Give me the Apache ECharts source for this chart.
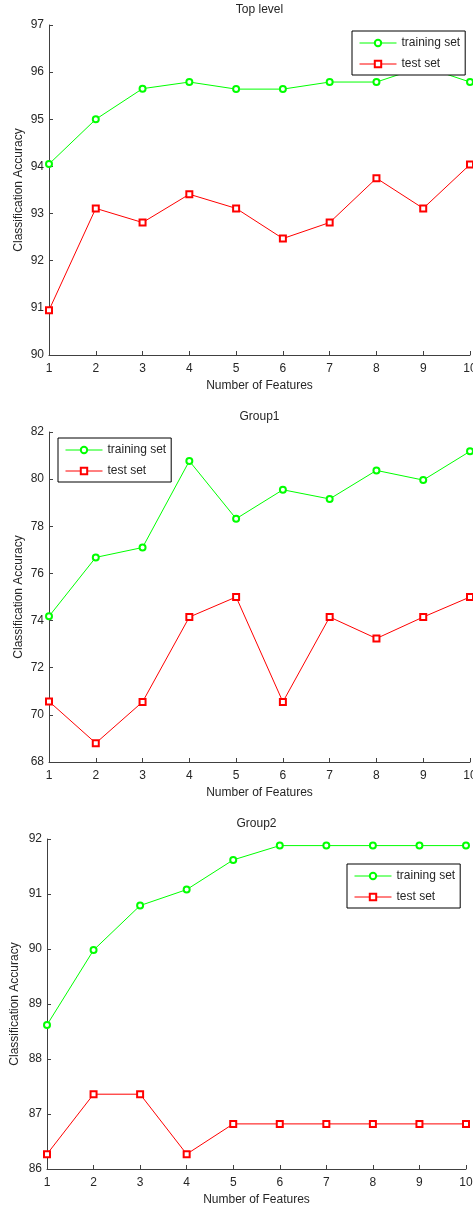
<!DOCTYPE html>
<html>
<head>
<meta charset="utf-8">
<script src="https://cdn.jsdelivr.net/npm/echarts@6/dist/echarts.min.js"></script>
<style>html,body{margin:0;padding:0;background:#fff}#c{width:473px;height:1211px}</style>
</head>
<body>
<div id="c"></div>
<script>
var features = [1, 2, 3, 4, 5, 6, 7, 8, 9, 10];
var titles = ['Top level', 'Group1', 'Group2'];
var topTrain = [94.05, 95.0, 95.65, 95.79, 95.64, 95.64, 95.79, 95.79, 96.12, 95.79];
var topTest = [90.95, 93.11, 92.81, 93.41, 93.11, 92.47, 92.81, 93.75, 93.11, 94.04];
var g1Train = [74.18, 76.68, 77.1, 80.77, 78.32, 79.55, 79.16, 80.37, 79.96, 81.18];
var g1Test = [70.57, 68.8, 70.55, 74.15, 75.0, 70.55, 74.15, 73.24, 74.15, 75.0];
var g2Train = [88.62, 89.98, 90.79, 91.08, 91.62, 91.88, 91.88, 91.88, 91.88, 91.88];
var g2Test = [86.27, 87.36, 87.36, 86.27, 86.82, 86.82, 86.82, 86.82, 86.82, 86.82];
var yRanges = [[90, 97, 1], [68, 82, 2], [86, 92, 1]];

var FONT = 'Liberation Sans, Arial, Helvetica, sans-serif';
var TXT = '#262626';
var grids = [
  {left: 49, right: 3, top: 25, height: 330},
  {left: 49, right: 3, top: 432, height: 330},
  {left: 47, right: 7, top: 839, height: 330}
];
var legendPos = [
  {left: 352, top: 31},
  {left: 58, top: 438},
  {left: 347, top: 864}
];
var trains = [topTrain, g1Train, g2Train];
var tests = [topTest, g1Test, g2Test];

function pairs(vals) { return features.map(function (f, i) { return [f, vals[i]]; }); }

var option = {
  backgroundColor: '#fff',
  animation: false,
  title: [], grid: [], xAxis: [], yAxis: [], legend: [], series: []
};
for (var k = 0; k < 3; k++) {
  var g = grids[k];
  var plotW = 473 - g.left - g.right;
  option.grid.push({left: g.left, right: g.right, top: g.top, height: g.height, containLabel: false, outerBoundsMode: 'none'});
  option.title.push({
    text: titles[k], left: g.left + plotW / 2, textAlign: 'center', top: g.top - 21, padding: 0,
    textStyle: {fontFamily: FONT, fontSize: 12, fontWeight: 'normal', color: TXT}
  });
  var axisCommon = {
    gridIndex: k,
    axisLine: {show: true, lineStyle: {color: '#404040', width: 1}},
    axisTick: {show: true, inside: true, length: 4, lineStyle: {color: '#404040'}},
    splitLine: {show: false},
    nameTextStyle: {fontFamily: FONT, fontSize: 12, color: TXT},
    nameLocation: 'middle',
    nameMoveOverlap: false
  };
  option.xAxis.push(Object.assign({}, axisCommon, {
    type: 'value', min: 1, max: 10, interval: 1, name: 'Number of Features', nameGap: 25,
    axisLabel: {fontFamily: FONT, fontSize: 12, color: TXT, margin: 8}
  }));
  option.yAxis.push(Object.assign({}, axisCommon, {
    type: 'value', min: yRanges[k][0], max: yRanges[k][1], interval: yRanges[k][2],
    name: 'Classification Accuracy', nameGap: k === 2 ? 26 : 24,
    axisLabel: {fontFamily: FONT, fontSize: 12, color: TXT, margin: 5}
  }));
  option.legend.push({
    left: legendPos[k].left, top: legendPos[k].top, orient: 'vertical',
    data: ['training set', 'test set'],
    borderColor: '#000', borderWidth: 1, backgroundColor: '#fff',
    padding: [6, 5, 5, 7], itemGap: 9, itemWidth: 37, itemHeight: 8, itemTextGap: 3,
    itemStyle: {borderWidth: 1},
    lineStyle: {width: 1},
    textStyle: {fontFamily: FONT, fontSize: 12, color: TXT},
    selectedMode: false
  });
  option.series.push({
    type: 'line', name: 'training set', xAxisIndex: k, yAxisIndex: k,
    data: pairs(trains[k]), symbol: 'emptyCircle', symbolSize: 6,
    itemStyle: {color: '#00ff00', borderWidth: 1}, lineStyle: {color: '#00ff00', width: 1}, z: 2
  });
  option.series.push({
    type: 'line', name: 'test set', xAxisIndex: k, yAxisIndex: k,
    data: pairs(tests[k]), symbol: 'emptyRect', symbolSize: 6,
    itemStyle: {color: '#ff0000', borderWidth: 1}, lineStyle: {color: '#ff0000', width: 1}, z: 2
  });
}
var chart = echarts.init(document.getElementById('c'), null, {renderer: 'canvas'});
chart.setOption(option);
</script>
</body>
</html>
